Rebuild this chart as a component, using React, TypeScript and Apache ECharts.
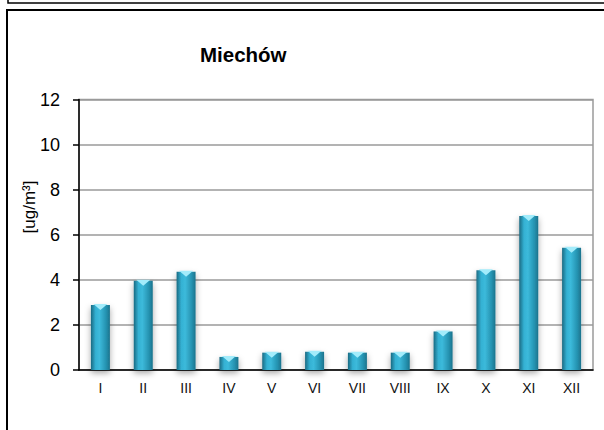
import React, { useEffect, useRef } from "react";
import * as echarts from "echarts";

const months = ["I", "II", "III", "IV", "V", "VI", "VII", "VIII", "IX", "X", "XI", "XII"];
const values = [2.88, 3.96, 4.36, 0.58, 0.77, 0.81, 0.77, 0.77, 1.71, 4.43, 6.83, 5.42];
const yTicks = [0, 2, 4, 6, 8, 10, 12];
const titleText = "Miechów";
const unitText = "[ug/m³]";

const FONT = 'Arial, "Liberation Sans", sans-serif';

export default function App() {
  const ref = useRef<HTMLDivElement>(null);
  useEffect(() => {
    if (!ref.current) return;
    const chart = echarts.init(ref.current, null, { renderer: "svg" });
    const barGradient = new echarts.graphic.LinearGradient(0, 0, 1, 0, [
      { offset: 0, color: "#1a6a82" },
      { offset: 0.25, color: "#34b1d3" },
      { offset: 0.45, color: "#3cbadb" },
      { offset: 0.8, color: "#2592b0" },
      { offset: 1, color: "#1c738c" },
    ]);
    chart.setOption({
      animation: false,
      backgroundColor: "#ffffff",
      title: {
        text: titleText,
        left: 200,
        top: 44,
        padding: 0,
        textStyle: { fontFamily: FONT, fontSize: 20.5, fontWeight: "bold", color: "#000" },
      },
      grid: {
        left: 79,
        right: 11,
        top: 99.5,
        bottom: 60,
        show: true,
        borderColor: "#9a9a9a",
        borderWidth: 1.5,
        containLabel: false,
      },
      xAxis: {
        type: "category",
        data: months,
        axisLine: { lineStyle: { color: "#000", width: 1.5 } },
        axisTick: { show: false },
        axisLabel: { color: "#111", fontFamily: FONT, fontSize: 14, margin: 11 },
      },
      yAxis: {
        type: "value",
        min: yTicks[0],
        max: yTicks[yTicks.length - 1],
        interval: 2,
        axisLine: { show: true, lineStyle: { color: "#000", width: 1.5 } },
        axisTick: { show: true, length: 6, lineStyle: { color: "#000", width: 1.5 } },
        axisLabel: { color: "#000", fontFamily: FONT, fontSize: 18, margin: 19 },
        splitLine: { lineStyle: { color: "#9a9a9a", width: 1.5 } },
      },
      series: [
        {
          type: "bar",
          data: values,
          barWidth: 19,
          itemStyle: {
            color: barGradient,
            shadowColor: "rgba(0,0,0,0.35)",
            shadowBlur: 6,
            shadowOffsetY: 3,
          },
          z: 2,
        },
        {
          type: "pictorialBar",
          data: values,
          barWidth: 19,
          symbol: "path://M0,0 L20,0 L10,7 Z",
          symbolSize: [14, 6],
          symbolPosition: "end",
          symbolOffset: [0, -1],
          itemStyle: { color: "#a3ecfb" },
          silent: true,
          z: 3,
        },
      ],
      graphic: [
        {
          type: "rect",
          shape: { x: 8, y: -20, width: 700, height: 23 },
          style: { fill: "none", stroke: "#000", lineWidth: 1.5 },
          silent: true,
        },
        {
          type: "rect",
          shape: { x: 7, y: 10, width: 700, height: 500 },
          style: { fill: "none", stroke: "#000", lineWidth: 2 },
          silent: true,
        },
        {
          type: "text",
          x: 29,
          y: 207,
          rotation: Math.PI / 2,
          style: {
            text: unitText,
            fontFamily: FONT,
            fontSize: 17,
            fill: "#000",
            align: "center",
            verticalAlign: "middle",
          },
          silent: true,
        },
      ],
    });
    return () => chart.dispose();
  }, []);
  return (
    <div
      ref={ref}
      style={{ position: "fixed", left: 0, top: 0, width: 604, height: 430, background: "#fff" }}
    />
  );
}
